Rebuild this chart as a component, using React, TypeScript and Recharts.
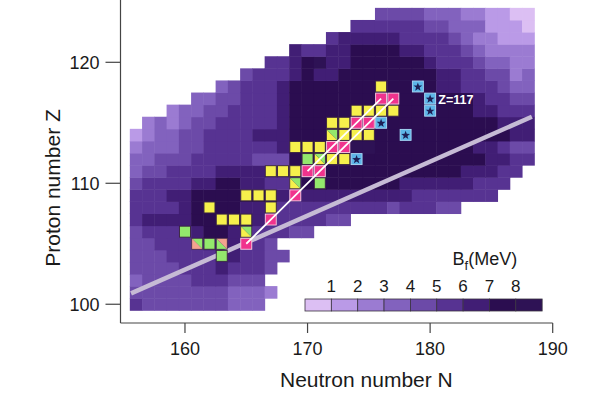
import React from 'react'
import { ScatterChart, Scatter, XAxis, YAxis, Legend } from 'recharts'

// plot frame (px) and axis domains
const X_MIN = 154.74
const X_MAX = 190
const Y_MIN = 98.45
const Y_MAX = 125.15
const PLOT_LEFT = 120.5
const PLOT_RIGHT = 552.7
const PLOT_BOTTOM = 323
const CELL_W = (PLOT_RIGHT - PLOT_LEFT) / (X_MAX - X_MIN)
const CELL_H = PLOT_BOTTOM / (Y_MAX - Y_MIN)
const SQ = CELL_W - 1.3

const FONT = '"Liberation Sans", Arial, Helvetica, sans-serif'

const neutronTicks = [160, 170, 180, 190]
const protonTicks = [100, 110, 120]

// fission barrier colour bins: <1, 1-2, ... 7-8, >8 MeV
const levelColors = [
  '#dcbff3',
  '#ba9ae7',
  '#9b7bd2',
  '#8262be',
  '#6c4aa8',
  '#573392',
  '#411e75',
  '#2b0d50',
  '#2e1255',
]
const legendTicks = [1, 2, 3, 4, 5, 6, 7, 8]

// heat map, one row per Z, starting at firstNeutron[i]
const protonNumbers = [
  100, 101, 102, 103, 104, 105, 106, 107, 108, 109, 110, 111, 112, 113, 114, 115, 116,
  117, 118, 119, 120, 121, 122, 123, 124,
]
const firstNeutron = [
  156, 156, 156, 156, 156, 156, 156, 156, 156, 156, 156, 156, 156, 156, 156, 157, 159,
  161, 163, 165, 167, 169, 172, 174, 176,
]
const barrierLevels = [
  [5, 4, 4, 4, 4, 4, 4, 4, 3, 3, 3],
  [4, 4, 4, 4, 4, 4, 4, 4, 3, 3, 3, 2],
  [3, 4, 4, 4, 4, 5, 5, 5, 4, 4, 4],
  [4, 4, 4, 4, 5, 5, 5, 6, 5, 5, 5, 4],
  [4, 4, 4, 5, 5, 5, 5, 6, 6, 5, 5, 4, 4],
  [4, 4, 5, 5, 5, 5, 6, 6, 6, 5, 5, 4],
  [4, 5, 5, 5, 5, 6, 7, 7, 6, 6, 5, 5, 5, 4, 4],
  [5, 6, 6, 6, 6, 7, 7, 7, 7, 7, 6, 6, 5, 5, 5, 5, 4, 4],
  [5, 5, 5, 5, 6, 7, 7, 7, 7, 6, 6, 6, 5, 5, 5, 5, 5, 5, 5, 5, 5, 4, 5, 5, 5, 4, 4],
  [5, 5, 5, 6, 6, 7, 7, 7, 7, 7, 7, 7, 6, 6, 6, 6, 6, 6, 6, 6, 6, 6, 6, 5, 5, 5, 5, 5, 5, 5],
  [4, 5, 5, 5, 5, 6, 6, 7, 7, 6, 6, 5, 5, 6, 7, 7, 7, 7, 7, 7, 7, 7, 6, 6, 6, 6, 6, 6, 5, 5, 5],
  [3, 4, 4, 5, 5, 5, 5, 6, 6, 6, 6, 6, 6, 6, 7, 7, 7, 7, 7, 7, 7, 7, 7, 7, 7, 7, 7, 6, 6, 6, 5, 5],
  [3, 3, 4, 4, 4, 5, 5, 5, 5, 5, 4, 4, 4, 7, 7, 7, 7, 7, 7, 7, 7, 7, 7, 7, 7, 7, 7, 7, 7, 6, 6, 5, 5],
  [2, 3, 3, 3, 4, 4, 5, 5, 5, 5, 5, 5, 6, 7, 7, 7, 7, 7, 8, 8, 7, 7, 7, 7, 7, 7, 7, 7, 6, 6, 5, 4, 4],
  [1, 2, 3, 3, 4, 4, 5, 5, 5, 5, 6, 6, 6, 7, 7, 7, 7, 7, 7, 7, 7, 7, 7, 7, 7, 7, 7, 7, 7, 7, 7, 6, 6],
  [2, 3, 2, 3, 4, 4, 5, 5, 5, 5, 5, 6, 7, 7, 7, 7, 8, 7, 7, 7, 7, 7, 7, 7, 7, 7, 7, 7, 7, 6, 6, 6],
  [2, 3, 3, 4, 4, 5, 5, 5, 5, 6, 7, 7, 7, 7, 7, 7, 7, 7, 7, 7, 7, 7, 7, 7, 7, 6, 6, 5, 5, 5],
  [3, 3, 4, 4, 5, 5, 5, 6, 7, 7, 7, 7, 7, 7, 7, 7, 7, 7, 7, 7, 7, 7, 7, 6, 5, 5, 4, 4],
  [3, 4, 5, 5, 5, 6, 7, 7, 7, 7, 7, 7, 7, 7, 7, 7, 7, 7, 6, 6, 5, 5, 5, 4, 3, 3],
  [4, 5, 5, 5, 6, 7, 6, 6, 7, 7, 7, 7, 7, 7, 7, 7, 6, 6, 5, 5, 4, 4, 2, 3],
  [5, 5, 6, 7, 8, 6, 6, 7, 7, 7, 7, 7, 7, 6, 5, 5, 5, 4, 3, 3, 2, 2],
  [6, 5, 5, 6, 6, 7, 7, 7, 7, 6, 6, 5, 5, 5, 4, 3, 2, 2, 2, 2],
  [5, 6, 6, 6, 6, 6, 5, 5, 5, 5, 4, 3, 2, 2, 1, 1, 1],
  [5, 5, 5, 5, 5, 5, 4, 4, 3, 3, 3, 1, 1, 1, 0],
  [4, 4, 4, 4, 3, 3, 3, 2, 2, 1, 1, 0, 0],
]

// observed nuclei [N, Z]
const yellowCells = [
  [176, 118], [174, 116], [175, 116], [176, 116], [177, 116], [172, 115], [173, 115],
  [173, 114], [174, 114], [175, 114], [169, 113], [170, 113], [171, 113], [172, 112],
  [173, 112], [167, 111], [168, 111], [169, 111], [165, 109], [166, 109], [167, 109],
  [162, 108], [167, 108], [163, 107], [164, 107], [165, 107],
]
const pinkCells = [
  [176, 117], [177, 117], [174, 115], [175, 115], [172, 113], [173, 113], [170, 111],
  [171, 111], [169, 109], [167, 107], [165, 105],
]
const greenCells = [[170, 112], [171, 110], [160, 106], [162, 105], [163, 104]]
const splitCells = [
  { n: 172, z: 114, lower: 'yellow', upper: 'green' },
  { n: 171, z: 112, lower: 'yellow', upper: 'green' },
  { n: 169, z: 110, lower: 'yellow', upper: 'green' },
  { n: 165, z: 106, lower: 'yellow', upper: 'green' },
  { n: 161, z: 105, lower: 'salmon', upper: 'green' },
  { n: 163, z: 105, lower: 'green', upper: 'salmon' },
]
const starCells = [[179, 118], [180, 117], [180, 116], [176, 115], [178, 114], [174, 112]]

// alpha-decay chains and the beta-stability line
const chain294 = [[165, 105], [167, 107], [169, 109], [171, 111], [173, 113], [175, 115], [177, 117]]
const chain293 = [[170, 111], [172, 113], [174, 115], [176, 117]]
const stabilityLine = [[155.6, 100.9], [188.3, 115.5]]

const squareColors: Record<string, string> = {
  yellow: '#f6f04c',
  pink: '#f0338d',
  green: '#93e86c',
  salmon: '#f3a38f',
  blue: '#5db5e8',
}

const toPoints = (cells: number[][]) => cells.map(([n, z]) => ({ n, z }))

const heatCells = protonNumbers.flatMap((z, i) =>
  barrierLevels[i].map((level, j) => ({ n: firstNeutron[i] + j, z, level }))
)

const heatShape = (props: any) => {
  const { cx, cy, payload } = props
  return (
    <rect
      x={cx - CELL_W / 2}
      y={cy - CELL_H / 2}
      width={CELL_W + 0.5}
      height={CELL_H + 0.5}
      fill={levelColors[payload.level]}
    />
  )
}

const squareShape = (fill: string, stroke: string) => (props: any) => {
  const { cx, cy } = props
  return (
    <rect
      x={cx - SQ / 2}
      y={cy - SQ / 2}
      width={SQ}
      height={SQ}
      fill={fill}
      stroke={stroke}
      strokeWidth={0.9}
    />
  )
}

const splitShape = (props: any) => {
  const { cx, cy, payload } = props
  const x0 = cx - SQ / 2
  const x1 = cx + SQ / 2
  const y0 = cy - SQ / 2
  const y1 = cy + SQ / 2
  return (
    <g>
      <path d={`M${x0},${y0}L${x0},${y1}L${x1},${y1}Z`} fill={squareColors[payload.lower]} />
      <path d={`M${x0},${y0}L${x1},${y0}L${x1},${y1}Z`} fill={squareColors[payload.upper]} />
      <rect x={x0} y={y0} width={SQ} height={SQ} fill="none" stroke="#3a2540" strokeWidth={0.7} />
    </g>
  )
}

const starShape = (props: any) => {
  const { cx, cy } = props
  const pts: string[] = []
  for (let k = 0; k < 10; k++) {
    const r = k % 2 === 0 ? 4.6 : 1.9
    const a = -Math.PI / 2 + (k * Math.PI) / 5
    pts.push(`${cx + r * Math.cos(a)},${cy + 0.5 + r * Math.sin(a)}`)
  }
  return (
    <g>
      <rect
        x={cx - SQ / 2}
        y={cy - SQ / 2}
        width={SQ}
        height={SQ}
        fill={squareColors.blue}
        stroke="#a9d9f5"
        strokeWidth={0.9}
      />
      <polygon points={pts.join(' ')} fill="#1d1f55" />
    </g>
  )
}

const noShape = () => <g />

const labelShape = (props: any) => (
  <text
    x={props.cx}
    y={props.cy}
    dominantBaseline="central"
    fill="#ffffff"
    fontWeight="bold"
    fontSize={12.5}
    fontFamily={FONT}
  >
    Z=117
  </text>
)

function ColorBar() {
  const boxW = 26.35
  return (
    <svg width={250} height={70} style={{ display: 'block', overflow: 'visible' }}>
      <text x={152.5} y={20} fontSize={18} fontFamily={FONT} fill="#1a1a1a">
        <tspan>B</tspan>
        <tspan dy={5} fontSize={13}>f</tspan>
        <tspan dy={-5}>(MeV)</tspan>
      </text>
      {legendTicks.map((t) => (
        <text
          key={t}
          x={5 + t * boxW}
          y={41}
          textAnchor="middle"
          dominantBaseline="central"
          fontSize={17}
          fontFamily={FONT}
          fill="#1a1a1a"
        >
          {t}
        </text>
      ))}
      {levelColors.map((c, i) => (
        <rect
          key={c + i}
          x={5 + i * boxW}
          y={54}
          width={boxW}
          height={12}
          fill={c}
          stroke="#3a3340"
          strokeWidth={0.8}
        />
      ))}
    </svg>
  )
}

export default function App() {
  return (
    <div
      style={{
        position: 'absolute',
        left: 0,
        top: 0,
        width: 600,
        height: 399,
        background: '#ffffff',
        fontFamily: FONT,
      }}
    >
      <ScatterChart
        width={600}
        height={399}
        margin={{ top: 0, right: 600 - PLOT_RIGHT, bottom: 0, left: 0 }}
      >
        <XAxis
          type="number"
          dataKey="n"
          domain={[X_MIN, X_MAX]}
          allowDataOverflow
          ticks={neutronTicks}
          height={76}
          tickSize={10}
          tickMargin={9}
          tick={{ fontSize: 18, fill: '#1a1a1a', fontFamily: FONT }}
          axisLine={{ stroke: '#444', strokeWidth: 1.2 }}
          tickLine={{ stroke: '#444', strokeWidth: 1.2 }}
          label={{
            content: () => (
              <text x={280} y={387} fontSize={21} fontFamily={FONT} fill="#1a1a1a">
                Neutron number N
              </text>
            ),
          }}
        />
        <YAxis
          type="number"
          dataKey="z"
          domain={[Y_MIN, Y_MAX]}
          allowDataOverflow
          ticks={protonTicks}
          width={PLOT_LEFT}
          tickSize={15}
          tickMargin={6}
          tick={{ fontSize: 18, fill: '#1a1a1a', fontFamily: FONT }}
          axisLine={{ stroke: '#444', strokeWidth: 1.2 }}
          tickLine={{ stroke: '#444', strokeWidth: 1.2 }}
          label={{
            content: () => (
              <text
                x={52}
                y={188}
                transform="rotate(-90 52 188)"
                textAnchor="middle"
                dominantBaseline="central"
                fontSize={21}
                fontFamily={FONT}
                fill="#1a1a1a"
              >
                Proton number Z
              </text>
            ),
          }}
        />
        <Legend
          layout="horizontal"
          align="center"
          verticalAlign="middle"
          wrapperStyle={{ left: 300, top: 245, width: 250, height: 70 }}
          content={() => <ColorBar />}
        />
        <Scatter data={heatCells} shape={heatShape} isAnimationActive={false} />
        <Scatter
          data={toPoints(stabilityLine)}
          shape={noShape}
          line={{ stroke: '#c6bbd5', strokeWidth: 4.5 }}
          isAnimationActive={false}
        />
        <Scatter data={toPoints(yellowCells)} shape={squareShape(squareColors.yellow, '#3a2540')} isAnimationActive={false} />
        <Scatter data={toPoints(greenCells)} shape={squareShape(squareColors.green, '#3a2540')} isAnimationActive={false} />
        <Scatter data={splitCells} shape={splitShape} isAnimationActive={false} />
        <Scatter data={toPoints(pinkCells)} shape={squareShape(squareColors.pink, '#f9cfe3')} isAnimationActive={false} />
        <Scatter data={toPoints(starCells)} shape={starShape} isAnimationActive={false} />
        <Scatter
          data={toPoints(chain294)}
          shape={noShape}
          line={{ stroke: '#ffffff', strokeWidth: 1.8 }}
          isAnimationActive={false}
        />
        <Scatter
          data={toPoints(chain293)}
          shape={noShape}
          line={{ stroke: '#ffffff', strokeWidth: 1.8 }}
          isAnimationActive={false}
        />
        <Scatter data={[{ n: 180.67, z: 116.85 }]} shape={labelShape} isAnimationActive={false} />
      </ScatterChart>
    </div>
  )
}
